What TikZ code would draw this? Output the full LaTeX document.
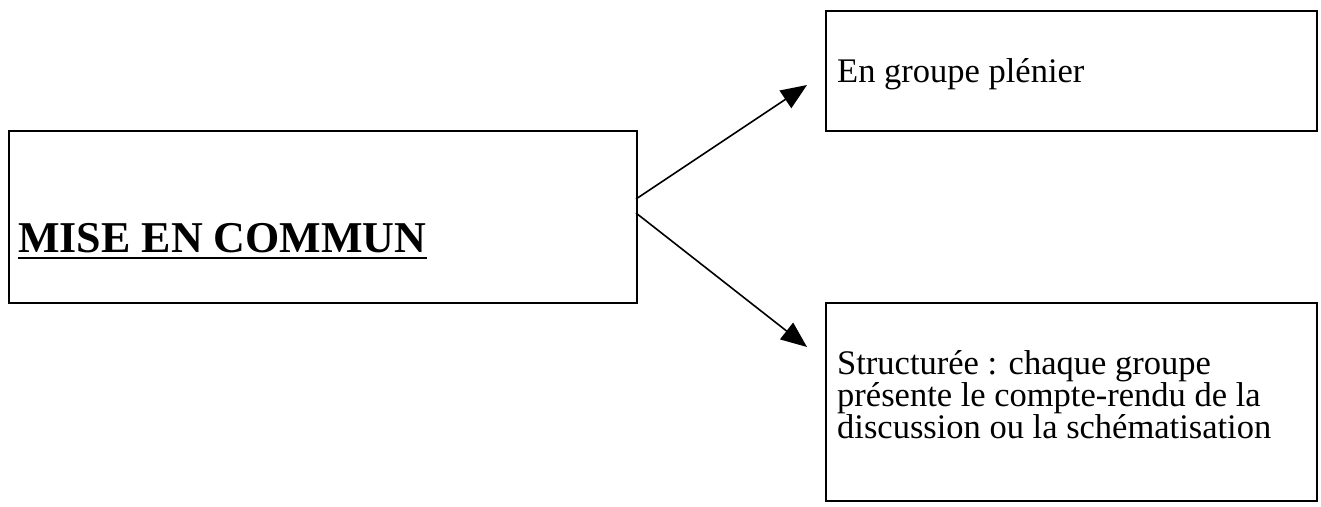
\documentclass[tikz,border=0pt]{standalone}
\usepackage{fontspec}
\setmainfont{Liberation Serif}
\usetikzlibrary{arrows.meta}
\tikzset{
  boxline/.style={draw=black, line width=2.5pt},
  txt/.style={inner sep=0pt, anchor=base west, font=\fontsize{34.5}{32}\selectfont, align=left},
  bigtxt/.style={inner sep=0pt, anchor=base west, font=\fontsize{44}{46}\selectfont\bfseries},
  conn/.style={draw=black, line width=1.6pt, -{Triangle[length=26pt,width=21pt]}}
}
\begin{document}
\begin{tikzpicture}[x=1pt,y=-1pt]
\useasboundingbox (0,0) rectangle (1321,506);
% boxes
\draw[boxline] (9,131) rectangle (637,303);
\node[inner sep=0pt, minimum width=628pt, minimum height=172pt] (L) at (323,217) {};
\draw[boxline] (826,11) rectangle (1317,131);
\node[inner sep=0pt, minimum width=491pt, minimum height=120pt] (U) at (1071.5,71) {};
\draw[boxline] (826,303) rectangle (1317,501);
\node[inner sep=0pt, minimum width=491pt, minimum height=198pt] (D) at (1071.5,402) {};
% texts
\node[bigtxt] (t0) at (18,252) {MISE EN COMMUN};
\draw[line width=2.5pt] ([yshift=-6pt]t0.base west) -- ([yshift=-6pt]t0.base east);
\node[txt] (t1) at (837,82) {En groupe plénier};
\node[txt] (t2) at (837,438) {Structurée : chaque groupe\\présente le compte-rendu de la\\discussion ou la schématisation};
% connectors
\coordinate (s1) at (636,199);
\coordinate (e1) at (807,85);
\coordinate (s2) at (636,213);
\coordinate (e2) at (807,347);
\draw[conn] (s1) -- (e1);
\draw[conn] (s2) -- (e2);
\end{tikzpicture}
\end{document}
